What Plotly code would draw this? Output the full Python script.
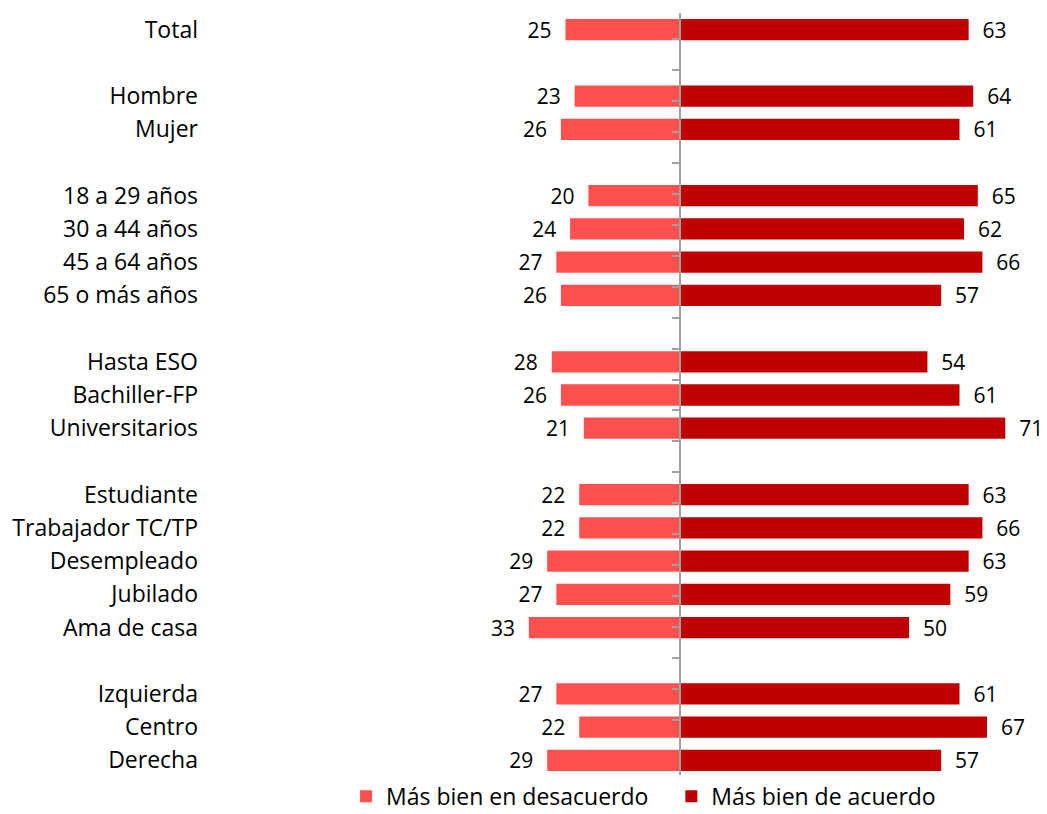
import plotly.graph_objects as go

categories = ["Total", " ", "Hombre", "Mujer", "  ",
              "18 a 29 años", "30 a 44 años", "45 a 64 años", "65 o más años", "   ",
              "Hasta ESO", "Bachiller-FP", "Universitarios", "    ",
              "Estudiante", "Trabajador TC/TP", "Desempleado", "Jubilado", "Ama de casa", "     ",
              "Izquierda", "Centro", "Derecha"]
desacuerdo = [25, None, 23, 26, None, 20, 24, 27, 26, None, 28, 26, 21, None,
              22, 22, 29, 27, 33, None, 27, 22, 29]
acuerdo = [63, None, 64, 61, None, 65, 62, 66, 57, None, 54, 61, 71, None,
           63, 66, 63, 59, 50, None, 61, 67, 57]
series_names = ["Más bien en desacuerdo", "Más bien de acuerdo"]

FONT = "'Open Sans', sans-serif"
W, H = 1047, 814
ml, mr, mt, mb = 210, 0, 13, 37
xr = [-102.6, 80.1]
pad = "\u00a0" * 2

left_vals = [-v if v is not None else None for v in desacuerdo]
left_text = [f"{v}{pad}" if v is not None else "" for v in desacuerdo]
right_text = [f"{pad}{v}" if v is not None else "" for v in acuerdo]

fig = go.Figure()
fig.add_trace(go.Bar(y=categories, x=left_vals, orientation="h",
                     name=series_names[0] + "\u00a0" * 3,
                     marker=dict(color="#FF5050", line=dict(width=0)),
                     text=left_text, texttemplate="%{text}", textposition="outside",
                     constraintext="none",
                     textfont=dict(size=21, color="#000000", family=FONT), cliponaxis=False,
                     hoverinfo="skip"))
fig.add_trace(go.Bar(y=categories, x=acuerdo, orientation="h", name=series_names[1],
                     marker=dict(color="#C00000", line=dict(width=0)),
                     text=right_text, texttemplate="%{text}", textposition="outside",
                     constraintext="none",
                     textfont=dict(size=21, color="#000000", family=FONT), cliponaxis=False,
                     hoverinfo="skip"))
# invisible trace for the central axis with boundary ticks
fig.add_trace(go.Scatter(y=categories, x=[0] * len(categories), yaxis="y2", mode="markers",
                         marker=dict(opacity=0), showlegend=False, hoverinfo="skip"))

zero_frac = (0 - xr[0]) / (xr[1] - xr[0])

fig.update_layout(
    width=W, height=H,
    margin=dict(l=ml, r=mr, t=mt, b=mb, autoexpand=False),
    paper_bgcolor="white", plot_bgcolor="white",
    barmode="relative", bargap=0.36,
    font=dict(family=FONT, size=23, color="#000000"),
    xaxis=dict(range=xr, visible=False, showgrid=False, zeroline=False, domain=[0, 1],
               automargin=False),
    yaxis=dict(type="category", categoryorder="array", categoryarray=categories,
               autorange="reversed", showgrid=False, zeroline=False, showline=False,
               ticks="", tickfont=dict(size=23, family=FONT), ticklabelstandoff=11,
               automargin=False),
    yaxis2=dict(type="category", categoryorder="array", categoryarray=categories,
                autorange="reversed", overlaying="y", anchor="free", position=zero_frac,
                side="left", showline=True, linecolor="#A0A0A0", linewidth=1.5,
                ticks="outside", tickson="boundaries", ticklen=7, tickcolor="#A0A0A0",
                tickwidth=1.5, showticklabels=False, showgrid=False, zeroline=False,
                automargin=False),
    legend=dict(orientation="h", x=0.518, xanchor="center", y=0.003, yanchor="top",
                font=dict(size=23, family=FONT), traceorder="normal",
                tracegroupgap=0, itemwidth=30),
    showlegend=True,
)

fig.write_html("out.html", post_script="document.body.style.margin='0';",
               config={"displayModeBar": False})
